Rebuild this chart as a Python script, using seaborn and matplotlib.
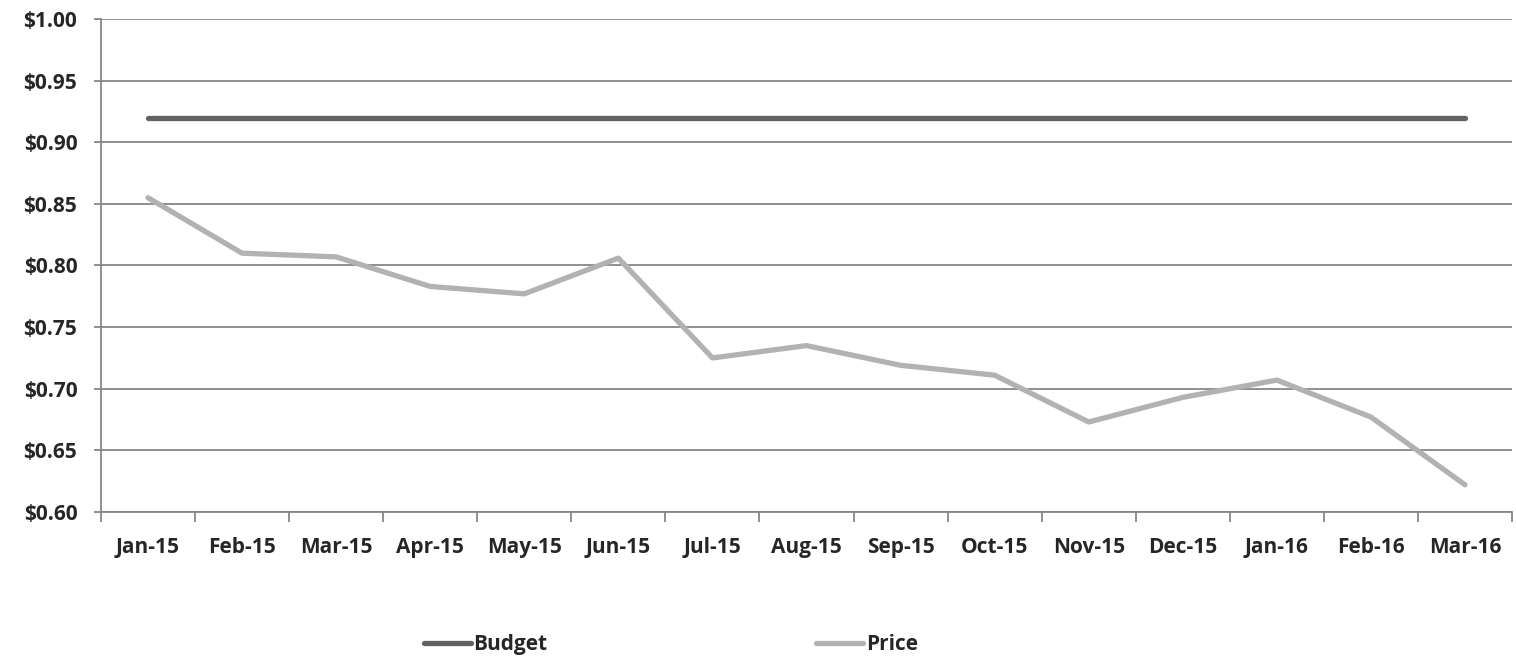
import seaborn as sns
import matplotlib.pyplot as plt
import numpy as np
import pandas as pd
from matplotlib.ticker import FixedLocator, FuncFormatter

months = ['Jan-15', 'Feb-15', 'Mar-15', 'Apr-15', 'May-15', 'Jun-15', 'Jul-15', 'Aug-15',
          'Sep-15', 'Oct-15', 'Nov-15', 'Dec-15', 'Jan-16', 'Feb-16', 'Mar-16']
budget = [0.92] * 15
price = [0.855, 0.810, 0.807, 0.783, 0.777, 0.806, 0.725, 0.735,
         0.719, 0.711, 0.673, 0.693, 0.707, 0.677, 0.622]

df = pd.DataFrame({'month': months * 2,
                   'value': budget + price,
                   'series': ['Budget'] * 15 + ['Price'] * 15})
df['pos'] = list(range(15)) * 2

sns.set_style('white')
plt.rcParams['font.family'] = ['Open Sans', 'DejaVu Sans']
plt.rcParams['font.weight'] = 'bold'
fs = 15

fig = plt.figure(figsize=(15.16, 6.63), dpi=100)
ax = fig.add_axes([0.0666, 0.2278, 0.9308, 0.7435])

sns.lineplot(data=df, x='pos', y='value', hue='series',
             palette={'Budget': '#626262', 'Price': '#b2b2b2'},
             linewidth=3.8, ax=ax, legend=False, solid_capstyle='round')

ax.set_xlim(-0.5, 14.5)
ax.set_ylim(0.60, 1.00)
ax.set_yticks(np.arange(0.60, 1.001, 0.05))
ax.yaxis.set_major_formatter(FuncFormatter(lambda v, p: f'${v:.2f}'))
ax.grid(axis='y', color='#878787', linewidth=1.3)
ax.set_axisbelow(True)

ax.set_xticks(range(15))
ax.set_xticklabels(months)
ax.xaxis.set_minor_locator(FixedLocator(np.arange(-0.5, 14.6, 1)))
ax.tick_params(axis='x', which='major', length=0, pad=18, labelsize=fs)
ax.tick_params(axis='x', which='minor', length=7, width=1.3, color='#878787', bottom=True)
ax.tick_params(axis='y', length=5, width=1.3, color='#878787', left=True, pad=12, labelsize=fs)
for lab in ax.get_xticklabels() + ax.get_yticklabels():
    lab.set_fontweight('bold')

for s in ['top', 'right']:
    ax.spines[s].set_visible(False)
for s in ['left', 'bottom']:
    ax.spines[s].set_color('#878787')
    ax.spines[s].set_linewidth(1.3)
ax.set_xlabel('')
ax.set_ylabel('')

handles = [plt.Line2D([], [], color='#626262', linewidth=3.8, solid_capstyle='round'),
           plt.Line2D([], [], color='#b2b2b2', linewidth=3.8, solid_capstyle='round')]
leg = fig.legend(handles, ['Budget', 'Price'], loc='center left', bbox_to_anchor=(0.2797, 0.028),
                 ncol=2, frameon=False, handlelength=2.25, handletextpad=0.12,
                 columnspacing=12.9, borderpad=0, borderaxespad=0,
                 prop={'weight': 'bold', 'size': fs})

fig.savefig('out.png', dpi=100)
